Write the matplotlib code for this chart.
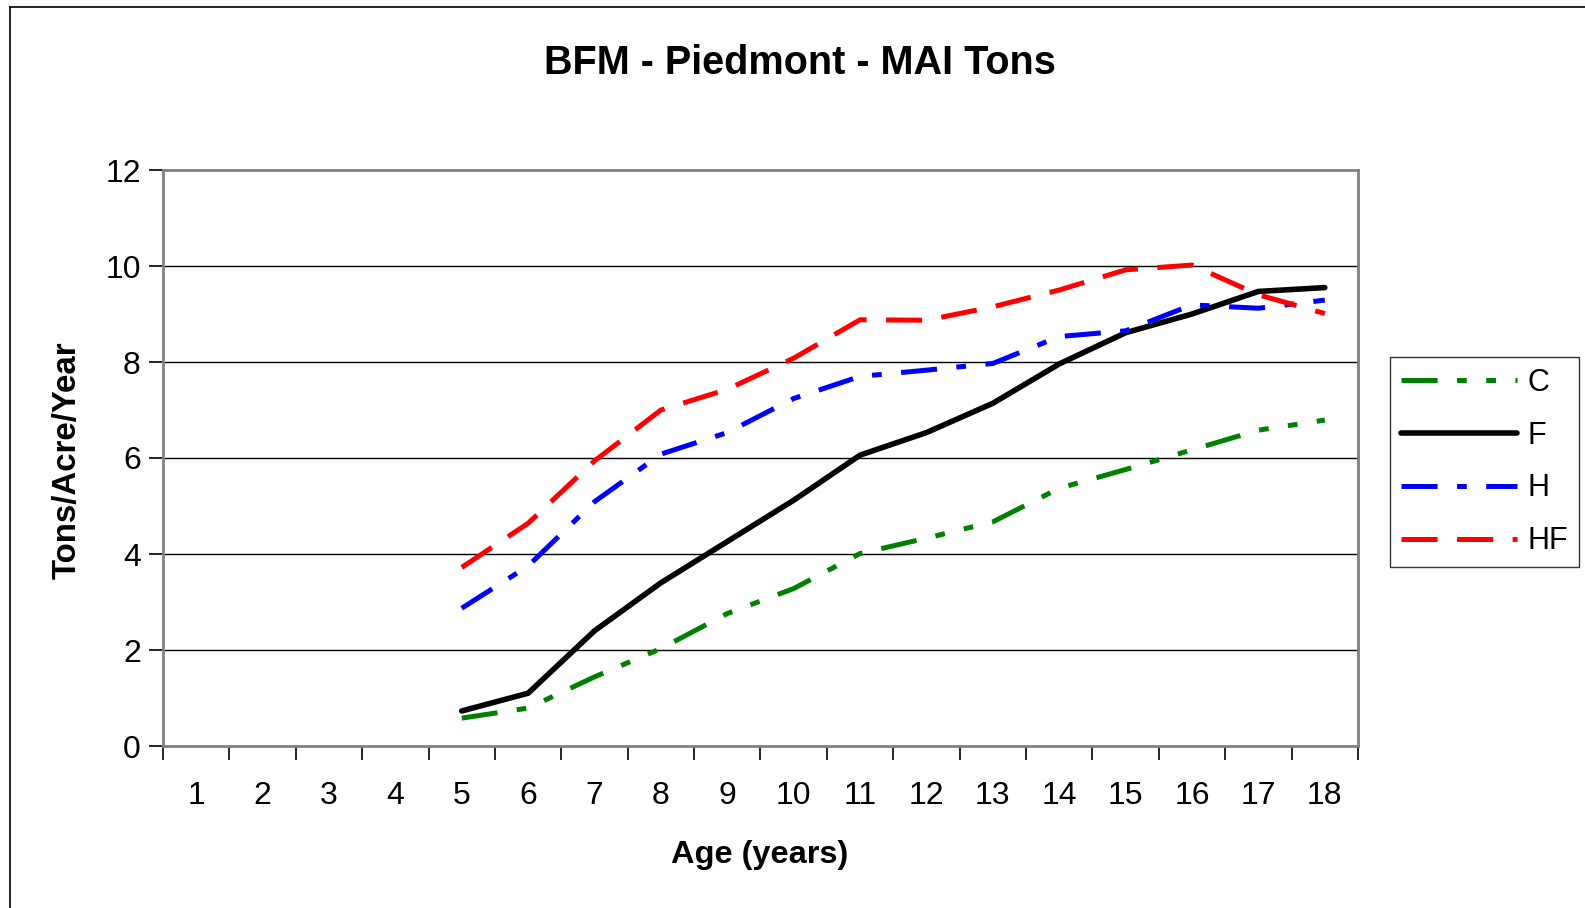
import numpy as np
import matplotlib
matplotlib.use("Agg")
import matplotlib.pyplot as plt
from matplotlib.lines import Line2D

plt.rcParams['font.family'] = ['Liberation Sans', 'DejaVu Sans']
plt.rcParams['lines.scale_dashes'] = False

# --- data ---
AGES = list(range(1, 19))
nan = np.nan
C = [nan, nan, nan, nan, 0.58, 0.79, 1.44, 2.03, 2.76, 3.28, 4.01, 4.33, 4.67, 5.37, 5.76, 6.17, 6.58, 6.79]
F = [nan, nan, nan, nan, 0.73, 1.10, 2.40, 3.40, 4.26, 5.12, 6.06, 6.53, 7.14, 7.96, 8.61, 9.00, 9.47, 9.55]
H = [nan, nan, nan, nan, 2.87, 3.75, 5.09, 6.08, 6.53, 7.24, 7.70, 7.83, 7.97, 8.53, 8.65, 9.19, 9.12, 9.29]
HF = [nan, nan, nan, nan, 3.72, 4.64, 5.94, 7.00, 7.43, 8.08, 8.88, 8.87, 9.15, 9.50, 9.92, 10.02, 9.40, 9.01]

SERIES = [
    ("C", C, "#008000", (0, (26, 14, 7, 14, 7, 14)), 3.6),
    ("F", F, "#000000", "-", 4.0),
    ("H", H, "#0000FF", (0, (26, 14, 7, 14)), 3.6),
    ("HF", HF, "#FF0000", (0, (26, 14)), 3.6),
]

W, Hh = 1585, 908
fig = plt.figure(figsize=(W / 100, Hh / 100), dpi=100)
ax = fig.add_axes([163 / W, 1 - 746 / Hh, (1358 - 163) / W, (746 - 170) / Hh])

for name, vals, col, ls, lw in SERIES:
    ax.plot(AGES, vals, color=col, linestyle=ls, lw=lw, label=name,
            solid_capstyle='round', dash_capstyle='butt')

ax.set_xlim(0.5, 18.5)
ax.set_ylim(0, 12)
ax.set_yticks(range(0, 13, 2))
ax.set_xticks(AGES)
ax.set_xticks(np.arange(0.5, 18.6, 1), minor=True)
ax.tick_params(axis='x', which='major', length=0, pad=25, labelsize=23)
ax.tick_params(axis='x', which='minor', length=10, width=1.2, color='#000000', direction='out')
ax.tick_params(axis='y', which='major', length=10, width=1.2, direction='out', labelsize=23, pad=6)

for yv in range(2, 12, 2):
    ax.axhline(yv, color='black', lw=1.0, zorder=0)
for side in ['top', 'right', 'left', 'bottom']:
    ax.spines[side].set_color('#808080')
    ax.spines[side].set_linewidth(2)

fig.text(0.505, 1 - 63 / Hh, "BFM - Piedmont - MAI Tons", ha='center', va='center',
         fontsize=28.5, fontweight='bold')
fig.text(760 / W, 1 - 855 / Hh, "Age (years)", ha='center', va='center',
         fontsize=23.4, fontweight='bold')
fig.text(67 / W, 1 - 460 / Hh, "Tons/Acre/Year", ha='center', va='center',
         rotation=90, fontsize=23.8, fontweight='bold')

leg = ax.legend(loc='center left', bbox_to_anchor=(1390 / W, 1 - 462 / Hh),
                bbox_transform=fig.transFigure, fontsize=22, frameon=True,
                fancybox=False, edgecolor='black', handlelength=3.8,
                handletextpad=0.35, labelspacing=0.75, borderpad=0.35,
                borderaxespad=0)
leg.get_frame().set_linewidth(1.0)

# outer chart frame (left and top edges visible)
fig.add_artist(Line2D([10 / W, 10 / W], [0, 1 - 7 / Hh], transform=fig.transFigure,
                      color='black', lw=1.2))
fig.add_artist(Line2D([10 / W, 1], [1 - 7 / Hh, 1 - 7 / Hh], transform=fig.transFigure,
                      color='black', lw=1.2))

fig.savefig("out.png", dpi=100)
